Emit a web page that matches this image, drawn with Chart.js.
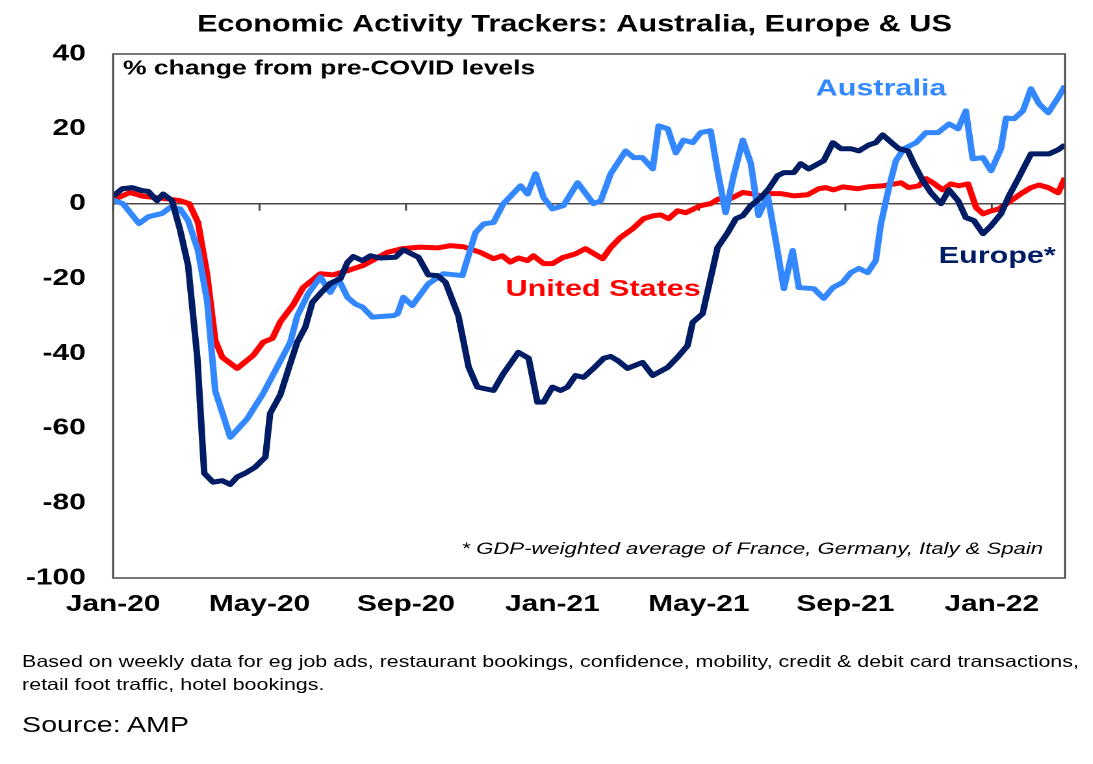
<!DOCTYPE html>
<html>
<head>
<meta charset="utf-8">
<title>Economic Activity Trackers: Australia, Europe & US</title>
<script src="https://cdn.jsdelivr.net/npm/chart.js@4"></script>
<style>
  html, body { margin: 0; padding: 0; background: #fff; overflow: hidden; }
  /* the source picture is stretched sideways, so the page is drawn narrow and widened */
  #page { position: absolute; left: 0; top: 0; width: 841px; height: 764px;
          transform: scaleX(1.2996); transform-origin: 0 0;
          font-family: 'Liberation Sans', Arial, sans-serif; color: #000; }
  #chart { position: absolute; left: 0; top: 0; }
  .note { position: absolute; left: 17px; top: 650px; font-size: 16.5px; line-height: 23px; white-space: nowrap; }
  .source { position: absolute; left: 17px; top: 711px; font-size: 22px; line-height: 28px; }
</style>
</head>
<body>
<div id="page">
  <canvas id="chart" width="841" height="640"></canvas>
  <div class="note">Based on weekly data for eg job ads, restaurant bookings, confidence, mobility, credit &amp; debit card transactions,<br>retail foot traffic, hotel bookings.</div>
  <div class="source">Source: AMP</div>
</div>
<script>
'use strict';

// data (x = months since Jan-20, weekly readings)
const tickLabels = ['Jan-20', 'May-20', 'Sep-20', 'Jan-21', 'May-21', 'Sep-21', 'Jan-22'];

const usMonths = [0, 0.46, 0.82, 1.48, 1.83, 2.08, 2.32, 2.57, 2.79, 2.98, 3.39, 3.83, 4.10, 4.35, 4.57, 4.92, 5.19, 5.66, 6.01, 6.40,
  6.83, 7.49, 7.90, 8.39, 8.86, 9.21, 9.57, 10.03, 10.39, 10.63, 10.85, 11.07, 11.32, 11.48, 11.76, 12.00, 12.28, 12.63, 12.90, 13.37,
  13.59, 13.86, 14.19, 14.49, 14.76, 14.96, 15.17, 15.42, 15.64, 16.05, 16.32, 16.54, 16.79, 17.20, 17.42, 17.69, 17.91, 18.23, 18.59, 18.97,
  19.27, 19.47, 19.68, 19.93, 20.34, 20.61, 21.05, 21.52, 21.73, 22.01, 22.20, 22.39, 22.66, 22.88, 23.10, 23.35, 23.57, 23.76, 23.98, 24.19,
  24.52, 24.80, 25.07, 25.29, 25.54, 25.81, 26.00];
const usValues = [1, 3, 2, 1.3, 0.8, 0, -5, -19, -36.5, -41, -44, -40.5, -37, -36, -31.5, -27, -22.4, -18.7, -19, -17.9,
  -16.5, -13, -12, -11.6, -11.8, -11.2, -11.5, -13, -14.7, -13.9, -15.6, -14.5, -15.2, -13.9, -16, -16, -14.4, -13.4, -12, -14.7,
  -11.7, -9, -6.7, -4, -3.2, -3, -4, -1.9, -2.4, -0.5, 0, 1.3, 1, 3, 2.7, 2.1, 2.7, 2.7, 2.1, 2.4,
  4, 4.3, 3.7, 4.5, 4, 4.5, 4.8, 5.6, 4.3, 4.8, 6.7, 5.6, 3.7, 5.3, 4.8, 5.3, -1, -2.7, -1.9, -1.4,
  0.8, 2.7, 4.3, 5, 4.3, 2.9, 6.9];

const ausMonths = [0, 0.27, 0.71, 0.96, 1.34, 1.56, 1.83, 2.05, 2.32, 2.57, 2.79, 3.20, 3.66, 4.10, 4.57, 4.84, 5.03, 5.33, 5.66, 5.93,
  6.15, 6.40, 6.62, 6.81, 7.08, 7.66, 7.77, 7.93, 8.17, 8.61, 9.02, 9.54, 9.90, 10.12, 10.39, 10.66, 11.13, 11.32, 11.54, 11.76,
  12.00, 12.30, 12.69, 13.12, 13.32, 13.59, 14.00, 14.22, 14.46, 14.74, 14.90, 15.15, 15.37, 15.58, 15.83, 16.05, 16.32, 16.51, 16.73, 16.95,
  17.20, 17.42, 17.63, 17.88, 18.10, 18.32, 18.56, 18.73, 19.14, 19.41, 19.66, 19.93, 20.15, 20.37, 20.61, 20.83, 20.97, 21.19, 21.38, 21.60,
  21.93, 22.20, 22.53, 22.83, 23.08, 23.29, 23.48, 23.76, 23.98, 24.25, 24.39, 24.61, 24.85, 25.07, 25.29, 25.54, 25.81, 26.00];
const ausValues = [1, 0, -5.3, -3.5, -2.6, -1, -1.4, -4.5, -12.5, -26, -50, -62.4, -57.5, -50.7, -42, -37, -30, -24, -19.6, -23.7,
  -20, -25, -26.8, -27.6, -30.3, -29.9, -29.4, -25, -27.2, -21.4, -18.7, -19.2, -7.7, -5.4, -5, 0, 4.8, 2.6, 8, 1.6,
  -1.4, -0.5, 5.6, 0, 0.8, 8, 14.1, 12.3, 12.3, 9.3, 20.8, 20, 13.6, 17, 16.3, 19, 19.5, 8.8, -2.4, 7.5,
  17, 10.7, -3.2, 2.1, -9.9, -22.7, -12.5, -22.4, -22.7, -25.3, -22.4, -21, -18.4, -17.3, -18.4, -15.2, -5.4, 4.3, 11.5, 14.7,
  16.3, 19, 19, 21.3, 20, 24.8, 12, 12.3, 8.8, 14.7, 22.9, 22.7, 24.8, 30.7, 26.7, 24.3, 28.3, 31.5];

const euMonths = [0, 0.25, 0.52, 0.79, 0.96, 1.20, 1.37, 1.61, 1.83, 2.05, 2.30, 2.49, 2.73, 2.98, 3.20, 3.39, 3.61, 3.88, 4.16, 4.29,
  4.57, 4.78, 5.03, 5.25, 5.44, 5.66, 5.93, 6.21, 6.40, 6.56, 6.81, 7.03, 7.30, 7.71, 7.93, 8.34, 8.61, 8.86, 9.08, 9.43,
  9.71, 9.95, 10.39, 10.66, 11.07, 11.35, 11.59, 11.76, 12.00, 12.22, 12.41, 12.63, 12.85, 13.12, 13.40, 13.59, 13.78, 14.05, 14.46, 14.74,
  15.15, 15.42, 15.69, 15.83, 16.10, 16.51, 16.79, 17.01, 17.20, 17.42, 17.69, 17.91, 18.15, 18.32, 18.59, 18.78, 19.00, 19.41, 19.66, 19.88,
  20.15, 20.37, 20.64, 20.83, 21.02, 21.30, 21.46, 21.71, 21.87, 22.12, 22.34, 22.61, 22.83, 23.08, 23.29, 23.51, 23.76, 23.98, 24.25, 24.47,
  24.72, 25.07, 25.56, 25.81, 26.00];
const euValues = [2, 4, 4.3, 3.5, 3.3, 0.8, 2.6, 0.8, -7, -16.5, -41, -72, -74.4, -74, -75, -73, -72, -70.4, -67.7, -56,
  -51, -44.5, -37, -33, -26.4, -24, -21.3, -20, -15.7, -14.1, -15.2, -13.9, -14.5, -14.3, -12.3, -14.3, -19, -19.2, -21, -29.9,
  -43.6, -49, -49.9, -45.4, -39.7, -41.3, -53, -53, -49, -49.9, -49, -45.9, -46.4, -44, -41.3, -40.8, -41.9, -44, -42.4, -45.9,
  -43.7, -41, -37.9, -31.7, -29.4, -11.7, -7.7, -4, -3.2, -0.5, 1.6, 4, 7.5, 8.3, 8.3, 10.7, 9.3, 11.5, 16.3, 14.7,
  14.7, 14.1, 15.7, 16.3, 18.4, 16, 14.7, 14.1, 10.7, 6.1, 2.9, 0, 3.7, 0.8, -3.7, -4.5, -8, -5.9, -2.7, 2.1,
  6.7, 13.3, 13.3, 14.4, 15.7];

// colours
const usColor = '#ff0000';
const ausColor = '#3388ff';
const euColor = '#001c64';
const fontFamily = "'Liberation Sans', Arial, sans-serif";

// text placed in data coordinates
const chartLabels = [
  { text: 'Australia', month: 19.19, value: 30.7, color: ausColor, font: 'bold 23.5px', align: 'left' },
  { text: 'United States', month: 10.72, value: -22.9, color: usColor, font: 'bold 23.5px', align: 'left' },
  { text: 'Europe*', month: 22.55, value: -14.1, color: euColor, font: 'bold 23.5px', align: 'left' },
  { text: '% change from pre-COVID levels', month: 0.27, value: 36, color: '#000', font: 'bold 20.4px', align: 'left' },
  { text: '* GDP-weighted average of France, Germany, Italy & Spain', month: 25.4, value: -92.3, color: '#000', font: 'italic 17px', align: 'right' }
];

function toPoints(months, values) {
  return months.map((m, i) => ({ x: m, y: values[i] }));
}

// frame, zero line with its ticks, title and in-chart text
const decorations = {
  id: 'decorations',
  beforeDatasetsDraw(chart) {
    const { ctx, chartArea, scales } = chart;
    const zeroY = scales.y.getPixelForValue(0);
    ctx.save();
    ctx.strokeStyle = '#4a4a4a';
    ctx.lineWidth = 1.5;
    ctx.beginPath();
    ctx.moveTo(chartArea.left, zeroY);
    ctx.lineTo(chartArea.right, zeroY);
    for (let tick of scales.x.ticks) {
      const px = scales.x.getPixelForValue(tick.value);
      ctx.moveTo(px, zeroY);
      ctx.lineTo(px, zeroY + 7);
    }
    ctx.stroke();
    ctx.restore();
  },
  afterDatasetsDraw(chart) {
    const { ctx, chartArea, scales } = chart;
    ctx.save();
    ctx.strokeStyle = '#4a4a4a';
    ctx.lineWidth = 1.5;
    ctx.strokeRect(chartArea.left, chartArea.top, chartArea.right - chartArea.left, chartArea.bottom - chartArea.top);

    ctx.textBaseline = 'middle';
    ctx.fillStyle = '#000';
    ctx.textAlign = 'center';
    ctx.font = 'bold 23.6px ' + fontFamily;
    ctx.fillText('Economic Activity Trackers: Australia, Europe & US', 442, 25);

    for (let label of chartLabels) {
      ctx.font = label.font + ' ' + fontFamily;
      ctx.fillStyle = label.color;
      ctx.textAlign = label.align;
      ctx.fillText(label.text, scales.x.getPixelForValue(label.month), scales.y.getPixelForValue(label.value));
    }
    ctx.restore();
  }
};

Chart.defaults.font.family = fontFamily;
Chart.defaults.color = '#000';

const ctx = document.getElementById('chart').getContext('2d');
const trackerChart = new Chart(ctx, {
  type: 'line',
  data: {
    datasets: [{
      label: 'Europe*',
      data: toPoints(euMonths, euValues),
      borderColor: euColor,
      borderWidth: 5
    }, {
      label: 'Australia',
      data: toPoints(ausMonths, ausValues),
      borderColor: ausColor,
      borderWidth: 5
    }, {
      label: 'United States',
      data: toPoints(usMonths, usValues),
      borderColor: usColor,
      borderWidth: 5
    }]
  },
  options: {
    responsive: false,
    animation: false,
    devicePixelRatio: 2,
    elements: {
      point: { radius: 0 },
      line: { tension: 0, borderJoinStyle: 'round', fill: false }
    },
    layout: {
      padding: { top: 54, right: 21.5, bottom: 0, left: 0 }
    },
    plugins: {
      legend: { display: false },
      tooltip: { enabled: false },
      title: { display: false }
    },
    scales: {
      x: {
        type: 'linear',
        min: 0,
        max: 26,
        grid: { display: false, drawTicks: false },
        border: { display: false },
        ticks: {
          stepSize: 4,
          includeBounds: false,
          autoSkip: false,
          maxRotation: 0,
          padding: 13,
          font: { size: 23, weight: 'bold' },
          callback: (value) => tickLabels[value / 4]
        },
        afterFit: (scale) => { scale.height = 62; }
      },
      y: {
        min: -100,
        max: 40,
        grid: { display: false, drawTicks: false },
        border: { display: false },
        ticks: {
          stepSize: 20,
          padding: 21,
          font: { size: 23, weight: 'bold' }
        },
        afterFit: (scale) => { scale.width = 87; }
      }
    }
  },
  plugins: [decorations]
});
</script>
</body>
</html>
